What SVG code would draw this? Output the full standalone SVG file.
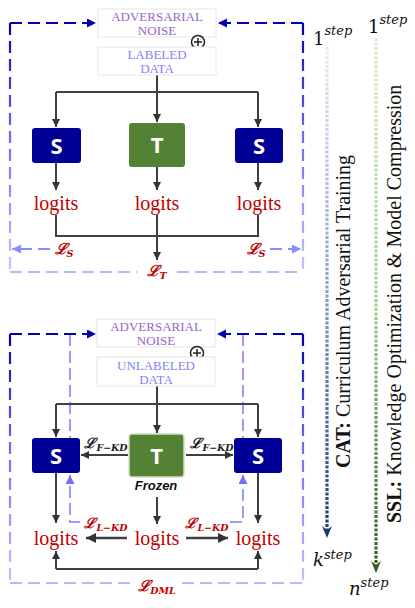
<svg xmlns="http://www.w3.org/2000/svg" width="415" height="608" viewBox="0 0 415 608">
<style>
.box{fill:#fff;stroke:#e6e6e6;stroke-width:1}
.adv{font-family:"Liberation Serif",serif;font-size:13px;fill:#9b65c9;text-anchor:middle}
.dat{font-family:"Liberation Serif",serif;font-size:13px;fill:#8383f5;text-anchor:middle}
.sbox{fill:#000096}
.tbox{fill:#548235}
.let{font-family:"Open Sans","Liberation Sans",sans-serif;font-weight:bold;font-size:22px;fill:#fff;text-anchor:middle}
.log{font-family:"Liberation Serif",serif;font-size:20px;fill:#c00000;text-anchor:middle}
.gl{fill:none;stroke:#404040;stroke-width:2}
.ga{fill:none;stroke:#404040;stroke-width:2;marker-end:url(#ah)}
.gb{fill:none;stroke:#404040;stroke-width:2.5;marker-end:url(#ahb)}
.dk{fill:none;stroke:#0000b0;stroke-width:2.2;stroke-dasharray:12 6}
.lt{fill:none;stroke:#b8b8ff;stroke-width:2.2;stroke-dasharray:12 6}
.in{fill:none;stroke:#9a9aff;stroke-width:2;stroke-dasharray:12 5}
.loss{font-family:"DejaVu Serif",serif;font-style:italic;font-weight:bold;font-size:15px;fill:#c00000;text-anchor:middle}
.lossk{font-family:"DejaVu Serif",serif;font-style:italic;font-weight:bold;font-size:14px;fill:#1a1a1a;text-anchor:middle}
.sub{font-size:9.5px}
.side{font-family:"Liberation Serif",serif;font-size:20px;fill:#111}
.step{font-family:"DejaVu Serif",serif;font-size:18px;fill:#111}
.sup{font-style:italic;font-size:13px}
</style>
<defs>
<marker id="ah" markerUnits="userSpaceOnUse" markerWidth="9" markerHeight="9" refX="8" refY="4" orient="auto"><path d="M0,0 L8,4 L0,8 z" fill="#333"/></marker>
<marker id="ahb" markerUnits="userSpaceOnUse" markerWidth="11" markerHeight="11" refX="10" refY="5" orient="auto"><path d="M0,0 L10,5 L0,10 z" fill="#333"/></marker>
<marker id="ahd" markerUnits="userSpaceOnUse" markerWidth="10" markerHeight="10" refX="9" refY="4.5" orient="auto"><path d="M0,0 L9,4.5 L0,9 z" fill="#0000b0"/></marker>
<marker id="ahl" markerUnits="userSpaceOnUse" markerWidth="10" markerHeight="10" refX="9" refY="4.5" orient="auto"><path d="M0,0 L9,4.5 L0,9 z" fill="#8c8cff"/></marker>
<marker id="ahi" markerUnits="userSpaceOnUse" markerWidth="10" markerHeight="10" refX="9" refY="4.5" orient="auto"><path d="M0,0 L9,4.5 L0,9 z" fill="#7070ff"/></marker>
<linearGradient id="gv1" gradientUnits="userSpaceOnUse" x1="0" y1="23" x2="0" y2="272"><stop offset="0" stop-color="#0000b0"/><stop offset="0.45" stop-color="#6a6aff"/><stop offset="1" stop-color="#c4c4ff"/></linearGradient>
<linearGradient id="gv2" gradientUnits="userSpaceOnUse" x1="0" y1="334" x2="0" y2="583"><stop offset="0" stop-color="#0000b0"/><stop offset="0.45" stop-color="#6a6aff"/><stop offset="1" stop-color="#c4c4ff"/></linearGradient>
<linearGradient id="gcat" gradientUnits="userSpaceOnUse" x1="0" y1="47" x2="0" y2="535"><stop offset="0" stop-color="#e6eaf5"/><stop offset="0.5" stop-color="#8ea0c8"/><stop offset="1" stop-color="#1f3870"/></linearGradient>
<linearGradient id="gssl" gradientUnits="userSpaceOnUse" x1="0" y1="38" x2="0" y2="570"><stop offset="0" stop-color="#dcebd2"/><stop offset="0.5" stop-color="#a9d08e"/><stop offset="1" stop-color="#385723"/></linearGradient>
</defs>

<!-- ===== connectors ===== -->
<g id="connectors">
  <!-- top section frame -->
  <path class="dk" d="M10,23 H96" marker-end="url(#ahd)"/>
  <path class="dk" d="M303,23 H218" marker-end="url(#ahd)"/>
  <path d="M10,23 V272" fill="none" stroke="url(#gv1)" stroke-width="2.2" stroke-dasharray="12 6"/>
  <path d="M303,23 V272" fill="none" stroke="url(#gv1)" stroke-width="2.2" stroke-dasharray="12 6"/>
  <path class="lt" d="M10,272 H137 M177,272 H303"/>
  <path class="lt" d="M50,249 H12" style="stroke:#8c8cff" marker-end="url(#ahl)"/>
  <path class="lt" d="M270,249 H301" style="stroke:#8c8cff" marker-end="url(#ahl)"/>
  <!-- top section gray -->
  <path class="gl" d="M157,75 V92 M56,92 H258"/>
  <path class="ga" d="M56,92 V127"/>
  <path class="ga" d="M157,92 V122"/>
  <path class="ga" d="M258,92 V127"/>
  <path class="ga" d="M56,163 V190"/>
  <path class="ga" d="M157,167 V190"/>
  <path class="ga" d="M258,163 V190"/>
  <path class="gl" d="M56,215 V236 H258 V215"/>
  <path class="ga" d="M157,215 V260"/>

  <!-- bottom section frame -->
  <path class="in" d="M70,334 V472"/>
  <path class="in" d="M243,334 V472"/>
  <path class="in" d="M80,522 H70 V475" marker-end="url(#ahi)"/>
  <path class="in" d="M230,522 H243 V475" marker-end="url(#ahi)"/>
  <path class="dk" d="M10,334 H96" marker-end="url(#ahd)"/>
  <path class="dk" d="M303,334 H217" marker-end="url(#ahd)"/>
  <path d="M10,334 V583" fill="none" stroke="url(#gv2)" stroke-width="2.2" stroke-dasharray="12 6"/>
  <path d="M303,334 V583" fill="none" stroke="url(#gv2)" stroke-width="2.2" stroke-dasharray="12 6"/>
  <path class="lt" d="M10,583 H132 M182,583 H303"/>
  <!-- bottom section gray -->
  <path class="gl" d="M56,404 H258"/>
  <path class="ga" d="M157,386 V433"/>
  <path class="ga" d="M56,404 V437"/>
  <path class="ga" d="M258,404 V437"/>
  <path class="ga" d="M128,455 H81"/>
  <path class="ga" d="M186,455 H233"/>
  <path class="ga" d="M56,473 V523"/>
  <path class="ga" d="M157,497 V524"/>
  <path class="ga" d="M258,473 V523"/>
  <path class="gb" d="M127,538 H86"/>
  <path class="gb" d="M186,538 H228"/>
  <path class="gl" d="M56,569 H258"/>
  <path class="ga" d="M56,569 V551"/>
  <path class="ga" d="M258,569 V551"/>

  <!-- side timelines -->
  <path d="M327,47 V530" fill="none" stroke="url(#gcat)" stroke-width="3.2" stroke-dasharray="3 1.5"/>
  <path d="M322,526 L327,538 L332,526 L327,530 z" fill="#1f3870"/>
  <path d="M376,38 V565" fill="none" stroke="url(#gssl)" stroke-width="3.2" stroke-dasharray="3 1.5"/>
  <path d="M371,561 L376,573 L381,561 L376,565 z" fill="#385723"/>
</g>

<!-- ===== top section nodes ===== -->
<g id="adv-noise-1">
  <rect class="box" x="98" y="9" width="118" height="28"/>
  <text class="adv" x="157" y="21">ADVERSARIAL</text>
  <text class="adv" x="157" y="35">NOISE</text>
</g>
<g id="plus-1">
  <circle cx="198" cy="42" r="6.5" fill="#fff" stroke="#222" stroke-width="1.5"/>
  <path d="M194,42 H202 M198,38 V46" stroke="#222" stroke-width="1.5"/>
</g>
<g id="labeled-data">
  <rect class="box" x="98" y="47" width="118" height="28"/>
  <text class="dat" x="157" y="59">LABELED</text>
  <text class="dat" x="157" y="73">DATA</text>
</g>
<g id="s1-left">
  <rect class="sbox" x="32" y="128" width="49" height="35" rx="3"/>
  <text class="let" x="56.5" y="153.5">S</text>
</g>
<g id="t1">
  <rect class="tbox" x="129" y="123" width="56" height="44" rx="3"/>
  <text class="let" x="157" y="153">T</text>
</g>
<g id="s1-right">
  <rect class="sbox" x="235" y="128" width="48" height="35" rx="3"/>
  <text class="let" x="259" y="153.5">S</text>
</g>
<g id="logits-1">
  <text class="log" x="56" y="210">logits</text>
  <text class="log" x="157" y="210">logits</text>
  <text class="log" x="259" y="210">logits</text>
</g>
<g id="losses-1">
  <text class="loss" x="64" y="254">ℒ<tspan class="sub" dy="3">S</tspan></text>
  <text class="loss" x="256" y="254">ℒ<tspan class="sub" dy="3">S</tspan></text>
  <text class="loss" x="157" y="276">ℒ<tspan class="sub" dy="3">T</tspan></text>
</g>

<!-- ===== bottom section nodes ===== -->
<g id="adv-noise-2">
  <rect class="box" x="97" y="319" width="118" height="28"/>
  <text class="adv" x="156" y="331">ADVERSARIAL</text>
  <text class="adv" x="156" y="345">NOISE</text>
</g>
<g id="plus-2">
  <circle cx="197" cy="353" r="6.5" fill="#fff" stroke="#222" stroke-width="1.5"/>
  <path d="M193,353 H201 M197,349 V357" stroke="#222" stroke-width="1.5"/>
</g>
<g id="unlabeled-data">
  <rect class="box" x="97" y="357" width="118" height="29"/>
  <text class="dat" x="156" y="370">UNLABELED</text>
  <text class="dat" x="156" y="384">DATA</text>
</g>
<g id="s2-left">
  <rect class="sbox" x="32" y="438" width="48" height="35" rx="3"/>
  <text class="let" x="56" y="463.5">S</text>
</g>
<g id="t2">
  <rect class="tbox" x="129" y="434" width="55" height="43" rx="3" stroke="#d5dccd" stroke-width="1.5"/>
  <text class="let" x="156.5" y="463.5">T</text>
  <text x="156" y="490" font-family="Liberation Sans,sans-serif" font-weight="bold" font-style="italic" font-size="13" fill="#111" text-anchor="middle">Frozen</text>
</g>
<g id="s2-right">
  <rect class="sbox" x="234" y="438" width="48" height="35" rx="3"/>
  <text class="let" x="258" y="463.5">S</text>
</g>
<g id="logits-2">
  <text class="log" x="56" y="545">logits</text>
  <text class="log" x="157" y="545">logits</text>
  <text class="log" x="258" y="545">logits</text>
</g>
<g id="losses-2">
  <text class="lossk" x="106" y="448">ℒ<tspan class="sub" dy="3">F−KD</tspan></text>
  <text class="lossk" x="212" y="448">ℒ<tspan class="sub" dy="3">F−KD</tspan></text>
  <text class="loss" x="106" y="528" style="font-size:14px">ℒ<tspan class="sub" dy="3">L−KD</tspan></text>
  <text class="loss" x="207" y="528" style="font-size:14px">ℒ<tspan class="sub" dy="3">L−KD</tspan></text>
  <text class="loss" x="157" y="591">ℒ<tspan class="sub" dy="3">DML</tspan></text>
</g>

<!-- ===== side labels ===== -->
<g id="cat">
  <text class="step" x="313" y="45">1<tspan class="sup" dy="-10">step</tspan></text>
  <text class="side" transform="translate(350,468) rotate(-90)"><tspan font-weight="bold">CAT:</tspan> Curriculum Adversarial Training</text>
  <text class="step" x="313" y="566" font-style="italic">k<tspan class="sup" dy="-7">step</tspan></text>
</g>
<g id="ssl">
  <text class="step" x="368" y="33">1<tspan class="sup" dy="-9">step</tspan></text>
  <text class="side" transform="translate(401,523) rotate(-90)"><tspan font-weight="bold">SSL:</tspan> Knowledge Optimization &amp; Model Compression</text>
  <text class="step" x="349" y="595" font-style="italic">n<tspan class="sup" dy="-8">step</tspan></text>
</g>
</svg>
